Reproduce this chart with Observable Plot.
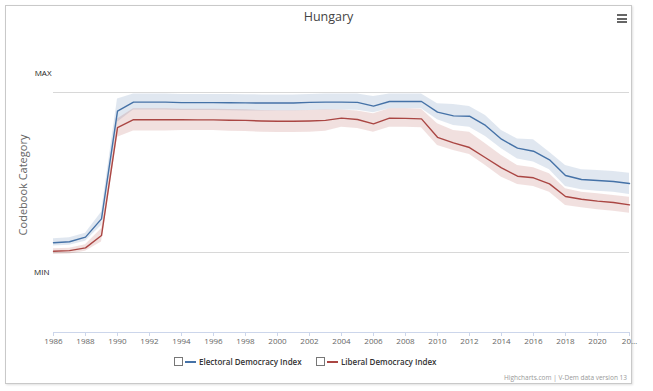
<!DOCTYPE html>
<html>
<head>
<meta charset="utf-8">
<script src="https://cdn.jsdelivr.net/npm/d3@7"></script>
<script src="https://cdn.jsdelivr.net/npm/@observablehq/plot@0.6"></script>
<style>
  html, body { margin: 0; padding: 0; background: #fff; }
  #wrap { position: relative; width: 653px; height: 391px; overflow: hidden; font-family: "Open Sans", "DejaVu Sans", sans-serif; }
  #frame { position: absolute; left: 5px; top: 5px; width: 627px; height: 379px; border: 1px solid #c9c9c9; box-shadow: 1px 1px 2px rgba(0,0,0,0.12); box-sizing: border-box; }
  #title { position: absolute; top: 8px; left: 0; width: 653px; text-align: center; font-size: 12.5px; color: #444; padding-left: 2px; }
  #menu { position: absolute; left: 617px; top: 14px; width: 10px; }
  #menu div { height: 2px; background: #666; margin-bottom: 1.5px; }
  #chart { position: absolute; left: 0; top: 0; }
  #ylabel { position: absolute; left: 22px; top: 185px; transform: translate(-50%, -50%) rotate(-90deg); white-space: nowrap; font-size: 11px; color: #666; }
  #legend { position: absolute; top: 356px; left: 0; width: 653px; font-size: 8px; font-weight: 600; color: #333; }
  .item { position: absolute; display: flex; align-items: center; }
  .box { width: 7px; height: 7px; border: 1px solid #777; background: #fff; margin-right: 2px; }
  .sw { width: 11px; height: 2px; margin-right: 3px; }
  #credits { position: absolute; right: 26px; top: 373px; font-size: 6.5px; color: #999; }
</style>
</head>
<body>
<div id="wrap">
  <div id="frame"></div>
  <div id="title">Hungary</div>
  <div id="menu"><div></div><div></div><div></div></div>
  <div id="chart"></div>
  <div id="ylabel">Codebook Category</div>
  <div id="legend"></div>
  <div id="credits">Highcharts.com | V-Dem data version 13</div>
</div>
<script>
// ---- data ----
const years = d3.range(1986, 2023);
const seriesNames = ["Electoral Democracy Index", "Liberal Democracy Index"];
const seriesColors = ["#4572A7", "#AA4643"];

const edi = [0.061, 0.067, 0.096, 0.21, 0.883, 0.94, 0.94, 0.94, 0.937, 0.937,
  0.937, 0.936, 0.935, 0.934, 0.934, 0.934, 0.938, 0.94, 0.94, 0.938,
  0.915, 0.944, 0.944, 0.944, 0.877, 0.854, 0.852, 0.794, 0.708, 0.652,
  0.633, 0.579, 0.481, 0.456, 0.45, 0.444, 0.431];
const ediLow = [0.04, 0.045, 0.071, 0.169, 0.814, 0.89, 0.89, 0.89, 0.888, 0.888,
  0.888, 0.886, 0.885, 0.884, 0.884, 0.884, 0.888, 0.89, 0.89, 0.889,
  0.873, 0.898, 0.898, 0.898, 0.829, 0.794, 0.783, 0.725, 0.648, 0.585,
  0.565, 0.517, 0.413, 0.392, 0.383, 0.377, 0.363];
const ediHigh = [0.086, 0.092, 0.121, 0.252, 0.96, 0.99, 0.99, 0.99, 0.988, 0.988,
  0.988, 0.987, 0.986, 0.985, 0.985, 0.985, 0.988, 0.99, 0.99, 0.99,
  0.975, 0.99, 0.99, 0.99, 0.93, 0.925, 0.913, 0.856, 0.763, 0.71,
  0.704, 0.627, 0.544, 0.517, 0.512, 0.506, 0.496];

const ldi = [0.008, 0.012, 0.029, 0.106, 0.78, 0.83, 0.83, 0.83, 0.83, 0.829,
  0.829, 0.827, 0.826, 0.822, 0.82, 0.82, 0.822, 0.826, 0.84, 0.831,
  0.804, 0.84, 0.838, 0.835, 0.72, 0.685, 0.656, 0.592, 0.529, 0.477,
  0.467, 0.429, 0.35, 0.333, 0.321, 0.3125, 0.298];
const ldiLow = [-0.012, -0.01, 0.008, 0.065, 0.72, 0.76, 0.76, 0.76, 0.762, 0.762,
  0.762, 0.758, 0.756, 0.752, 0.75, 0.75, 0.752, 0.758, 0.783, 0.775,
  0.752, 0.783, 0.783, 0.78, 0.669, 0.638, 0.613, 0.544, 0.471, 0.425,
  0.413, 0.377, 0.294, 0.279, 0.267, 0.258, 0.246];
const ldiHigh = [0.023, 0.027, 0.048, 0.148, 0.835, 0.898, 0.898, 0.898, 0.896, 0.895,
  0.895, 0.893, 0.892, 0.888, 0.886, 0.886, 0.888, 0.892, 0.89, 0.885,
  0.867, 0.898, 0.898, 0.895, 0.804, 0.763, 0.752, 0.679, 0.606, 0.544,
  0.529, 0.492, 0.398, 0.377, 0.367, 0.356, 0.346];

const yLevels = [0, 1];
const yLevelNames = ["MIN", "MAX"];
const xTicks = d3.range(1986, 2023, 2);

// ---- build table ----
const rows = [];
const sets = [[edi, ediLow, ediHigh], [ldi, ldiLow, ldiHigh]];
sets.forEach(([v, lo, hi], s) => {
  years.forEach((yr, i) => rows.push({series: seriesNames[s], year: yr, value: v[i], low: lo[i], high: hi[i]}));
});

const chart = Plot.plot({
  width: 653,
  height: 352,
  marginLeft: 53,
  marginRight: 24,
  marginTop: 52,
  marginBottom: 20,
  style: {fontFamily: "'Open Sans', 'DejaVu Sans', sans-serif", background: "transparent"},
  x: {domain: [1986, 2022]},
  y: {domain: [-0.5, 1.25]},
  color: {domain: seriesNames, range: seriesColors},
  marks: [
    Plot.ruleY(yLevels, {stroke: "#d8d8d8", strokeWidth: 1}),
    Plot.areaY(rows, {x: "year", y1: "low", y2: "high", fill: "series", fillOpacity: 0.17, curve: "linear"}),
    Plot.lineY(rows, {x: "year", y: "value", stroke: "series", strokeWidth: 1.4, curve: "linear"}),
    Plot.ruleY([-0.5], {stroke: "#ccd6eb", strokeWidth: 1}),
    Plot.axisX({ticks: xTicks, tickSize: 4, tickPadding: 2, stroke: "#ccd6eb", fontSize: 8, fill: "#666", label: null,
      tickFormat: d => d === 2022 ? "20\u2026" : String(d)}),
    Plot.axisY({ticks: [yLevels[1]], tickSize: 0, tickPadding: 2, dy: -19, fontSize: 8, fill: "#222", label: null,
      tickFormat: d => yLevelNames[yLevels.indexOf(d)]}),
    Plot.axisY({ticks: [yLevels[0]], tickSize: 0, tickPadding: 4, dy: 20, fontSize: 8, fill: "#222", label: null,
      tickFormat: d => yLevelNames[yLevels.indexOf(d)]})
  ]
});
document.getElementById("chart").appendChild(chart);

// ---- legend ----
const legend = document.getElementById("legend");
const lefts = [174, 316];
seriesNames.forEach((name, i) => {
  const it = document.createElement("div");
  it.className = "item";
  it.style.left = lefts[i] + "px";
  it.innerHTML = `<div class="box"></div><div class="sw" style="background:${seriesColors[i]}"></div><span>${name}</span>`;
  legend.appendChild(it);
});
</script>
</body>
</html>
